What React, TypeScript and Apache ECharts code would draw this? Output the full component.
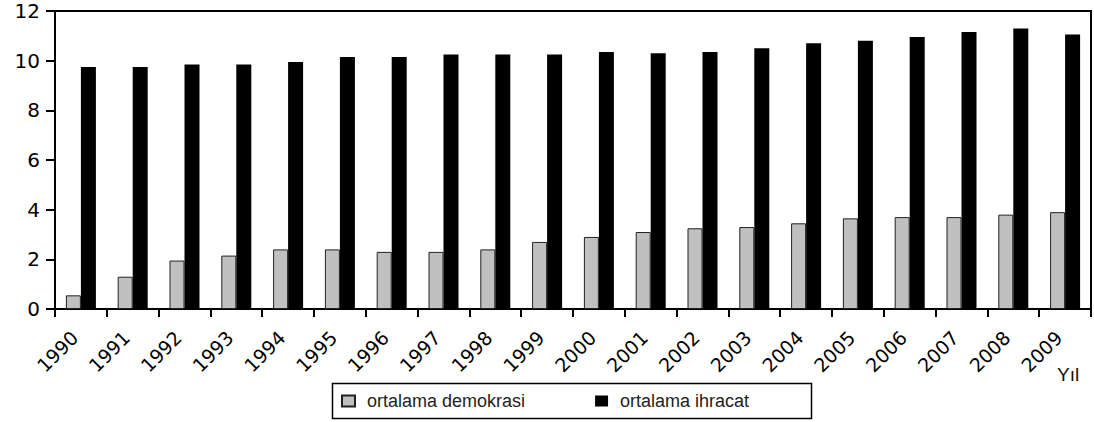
import React, { useEffect, useRef } from "react";
import * as echarts from "echarts";

const years = ["1990","1991","1992","1993","1994","1995","1996","1997","1998","1999","2000","2001","2002","2003","2004","2005","2006","2007","2008","2009"];
const demokrasi = [0.55, 1.3, 1.95, 2.15, 2.4, 2.4, 2.3, 2.3, 2.4, 2.7, 2.9, 3.1, 3.25, 3.3, 3.45, 3.65, 3.7, 3.7, 3.8, 3.9];
const ihracat = [9.75, 9.75, 9.85, 9.85, 9.95, 10.15, 10.15, 10.25, 10.25, 10.25, 10.35, 10.3, 10.35, 10.5, 10.7, 10.8, 10.95, 11.15, 11.3, 11.05];
const seriesNames = ["ortalama demokrasi", "ortalama ihracat"];
const axisTitle = "Yıl";

export default function App() {
  const ref = useRef<HTMLDivElement>(null);
  useEffect(() => {
    document.body.style.margin = "0";
    const chart = echarts.init(ref.current!, null, { renderer: "svg" });
    const axisFont = "DejaVu Sans";
    chart.setOption({
      animation: false,
      backgroundColor: "#fff",
      grid: {
        left: 55, right: 3, top: 11, bottom: 113,
        show: true, borderColor: "#000", borderWidth: 2, backgroundColor: "transparent",
      },
      legend: {
        left: 341, top: 391,
        icon: "rect",
        itemWidth: 13, itemHeight: 11,
        itemGap: 70,
        padding: 0,
        textStyle: { fontFamily: "Liberation Sans", fontSize: 18, color: "#222", padding: [0, 0, 0, 7], lineHeight: 20 },
        data: seriesNames,
      },
      xAxis: {
        type: "category",
        data: years,
        axisLine: { lineStyle: { color: "#000", width: 2 } },
        axisTick: { show: true, length: 8, lineStyle: { color: "#000", width: 2 } },
        axisLabel: { rotate: 45, margin: 19, padding: [0, 9, 0, 0], fontFamily: axisFont, fontSize: 19, color: "#000", interval: 0 },
      },
      yAxis: {
        type: "value",
        min: 0, max: 12, interval: 2,
        splitLine: { show: false },
        axisLine: { show: true, lineStyle: { color: "#000", width: 2 } },
        axisTick: { show: true, length: 9, lineStyle: { color: "#000", width: 2 } },
        axisLabel: { margin: 15, fontFamily: axisFont, fontSize: 20, color: "#000" },
      },
      series: [
        {
          name: seriesNames[0], type: "bar", data: demokrasi,
          barWidth: 15, barGap: "0%",
          itemStyle: { color: "#c0c0c0", borderColor: "#222", borderWidth: 1 },
        },
        {
          name: seriesNames[1], type: "bar", data: ihracat,
          barWidth: 15, barGap: "0%",
          itemStyle: { color: "#000" },
        },
      ],
      graphic: [
        {
          type: "rect",
          shape: { x: 332.5, y: 383.5, width: 479, height: 35 },
          style: { fill: "none", stroke: "#000", lineWidth: 1.5 },
          silent: true,
        },
        {
          type: "text",
          left: 1057, top: 365,
          style: { text: axisTitle, fontFamily: "Liberation Sans", fontSize: 19, fill: "#111" },
        },
      ],
    });
    return () => chart.dispose();
  }, []);
  return <div ref={ref} style={{ width: 1094, height: 422, position: "fixed", left: 0, top: 0 }} />;
}
